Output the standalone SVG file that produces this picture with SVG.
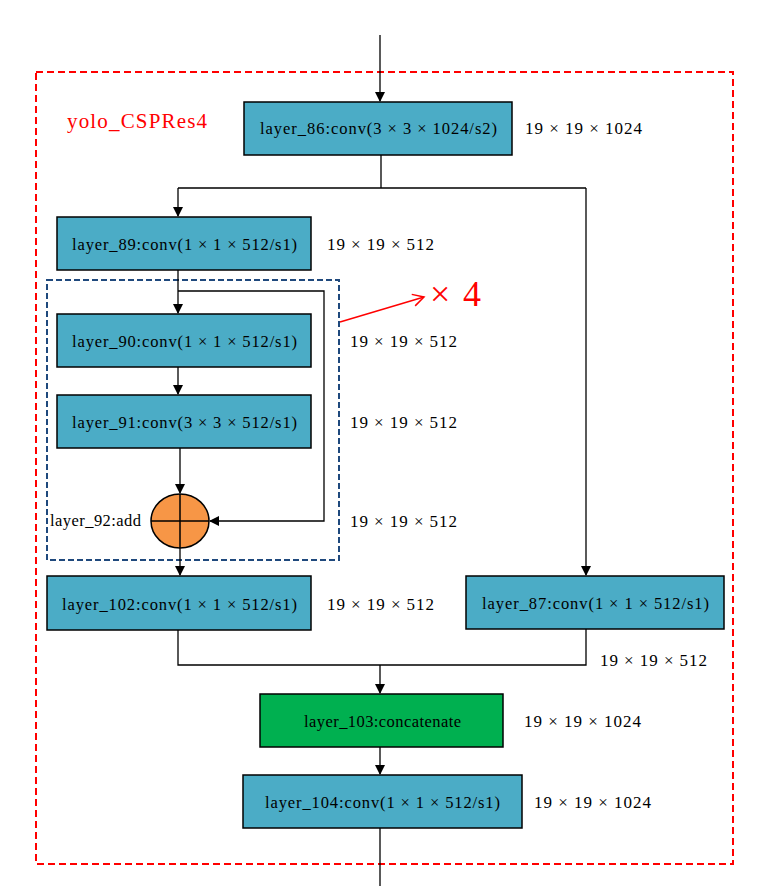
<svg xmlns="http://www.w3.org/2000/svg" width="758" height="886" viewBox="0 0 758 886">
<defs>
<marker id="ah" markerWidth="10" markerHeight="10" refX="9" refY="5" orient="auto" markerUnits="userSpaceOnUse"><path d="M0,0 L10,5 L0,10 Z" fill="#000"/></marker>
<marker id="rh" markerWidth="14" markerHeight="14" refX="12" refY="7" orient="auto" markerUnits="userSpaceOnUse"><path d="M1,1 L12,7 L1,13" fill="none" stroke="#f00" stroke-width="1.5"/></marker>
<style>
.n{fill:#4BACC6;stroke:#000;stroke-width:1.5}
.g{fill:#00B050;stroke:#000;stroke-width:1.5}
.t{font-size:16.5px;fill:#000;text-anchor:middle;dominant-baseline:central}
.d{font-size:17px;fill:#000;dominant-baseline:central}
.c{fill:none;stroke:#000;stroke-width:1.3}
</style>
</defs>
<rect width="758" height="886" fill="#fff"/>
<rect x="36" y="72" width="697" height="792" fill="none" stroke="#f00" stroke-width="2" stroke-dasharray="7,4"/>
<text x="67" y="121" font-family="Liberation Serif, serif" font-size="21" textLength="140" fill="#f00" dominant-baseline="central">yolo_CSPRes4</text>
<rect x="47" y="280" width="292" height="280" fill="none" stroke="#1F497D" stroke-width="2" stroke-dasharray="6,3"/>
<g id="connectors">
<path class="c" d="M380,35 V101" marker-end="url(#ah)"/>
<path class="c" d="M381,155 V188 M178,188 H586"/>
<path class="c" d="M178,188 V216" marker-end="url(#ah)"/>
<path class="c" d="M586,188 V575" marker-end="url(#ah)"/>
<path class="c" d="M178,270 V313" marker-end="url(#ah)"/>
<path class="c" d="M178,291 H324 V521 H210" marker-end="url(#ah)"/>
<path class="c" d="M178,367 V394" marker-end="url(#ah)"/>
<path class="c" d="M180,448 V493" marker-end="url(#ah)"/>
<path class="c" d="M180,548 V575" marker-end="url(#ah)"/>
<path class="c" d="M178,630 V665 H586 V629"/>
<path class="c" d="M380,665 V693" marker-end="url(#ah)"/>
<path class="c" d="M380,747 V774" marker-end="url(#ah)"/>
<path class="c" d="M380,828 V886"/>
<path d="M340,322 L424,297" fill="none" stroke="#f00" stroke-width="1.5" marker-end="url(#rh)"/>
</g>
<text x="430" y="294" font-family="Liberation Serif, serif" font-size="36" textLength="51" fill="#f00" dominant-baseline="central">× 4</text>
<g font-family="Liberation Serif, serif">
<g id="layer_86"><rect class="n" x="244" y="102" width="268" height="53"/><text class="t" x="378.5" y="128" textLength="237">layer_86:conv(3 × 3 × 1024/s2)</text></g>
<text class="d" x="525" y="128" textLength="117">19 × 19 × 1024</text>
<g id="layer_89"><rect class="n" x="57" y="217" width="254" height="53"/><text class="t" x="184.5" y="244" textLength="225">layer_89:conv(1 × 1 × 512/s1)</text></g>
<text class="d" x="327" y="244" textLength="107">19 × 19 × 512</text>
<g id="layer_90"><rect class="n" x="57" y="314" width="254" height="53"/><text class="t" x="184.5" y="341" textLength="225">layer_90:conv(1 × 1 × 512/s1)</text></g>
<text class="d" x="350" y="341" textLength="107">19 × 19 × 512</text>
<g id="layer_91"><rect class="n" x="57" y="395" width="254" height="53"/><text class="t" x="184.5" y="422" textLength="225">layer_91:conv(3 × 3 × 512/s1)</text></g>
<text class="d" x="350" y="422" textLength="107">19 × 19 × 512</text>
<g id="layer_92"><ellipse cx="180" cy="521" rx="29" ry="27" fill="#F79646" stroke="#000" stroke-width="1.5"/><path d="M151,521 H209 M180,494 V548" stroke="#000" stroke-width="1.5"/><text class="t" x="95.5" y="520" textLength="91">layer_92:add</text></g>
<text class="d" x="350" y="521" textLength="107">19 × 19 × 512</text>
<g id="layer_102"><rect class="n" x="47" y="576" width="264" height="54"/><text class="t" x="179.5" y="604" textLength="235">layer_102:conv(1 × 1 × 512/s1)</text></g>
<text class="d" x="327" y="604" textLength="107">19 × 19 × 512</text>
<g id="layer_87"><rect class="n" x="466" y="576" width="258" height="53"/><text class="t" x="595.5" y="603" textLength="227">layer_87:conv(1 × 1 × 512/s1)</text></g>
<text class="d" x="600" y="660" textLength="107">19 × 19 × 512</text>
<g id="layer_103"><rect class="g" x="260" y="694" width="243" height="53"/><text class="t" x="382.5" y="721" textLength="157">layer_103:concatenate</text></g>
<text class="d" x="524" y="721" textLength="117">19 × 19 × 1024</text>
<g id="layer_104"><rect class="n" x="243" y="775" width="279" height="53"/><text class="t" x="382.5" y="802" textLength="235">layer_104:conv(1 × 1 × 512/s1)</text></g>
<text class="d" x="534" y="802" textLength="117">19 × 19 × 1024</text>
</g>
</svg>
